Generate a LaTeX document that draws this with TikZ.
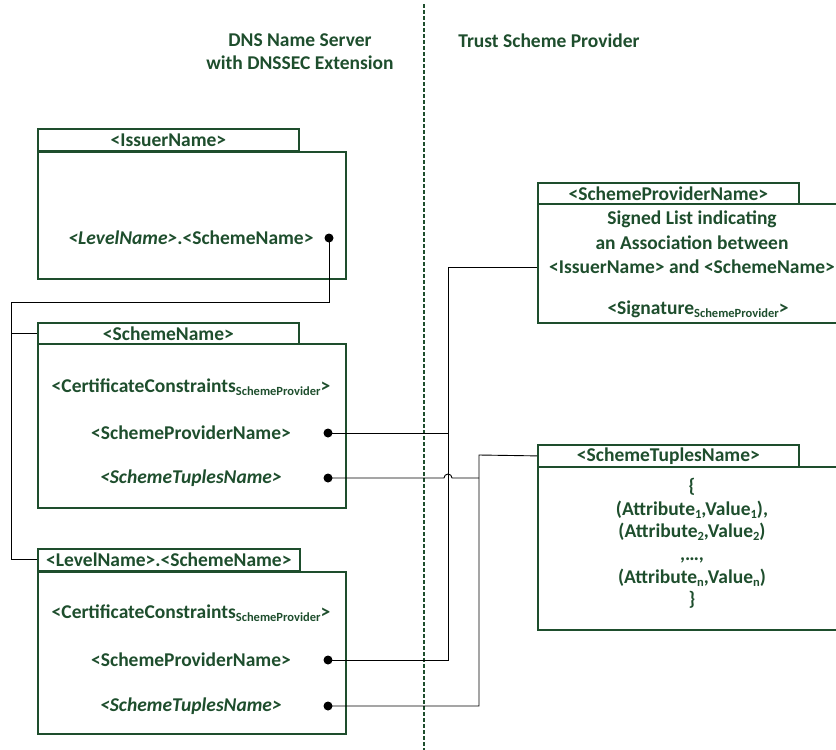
\documentclass[tikz,border=0pt]{standalone}
\usepackage{fontspec}
\setmainfont{Carlito}
\usetikzlibrary{calc}
\definecolor{dkgreen}{RGB}{30,78,45}
\newcommand{\sbs}[1]{\raisebox{-3pt}{\fontsize{12.5}{13}\selectfont #1}}

\begin{document}
\begin{tikzpicture}[x=1pt,y=-1pt,
  every node/.style={font=\fontsize{19.5}{22}\selectfont\bfseries, text=dkgreen, inner sep=0pt},
  tabbox/.style={draw=dkgreen, line width=1.8pt, fill=white, minimum width=261pt, minimum height=22pt, anchor=north west},
  mainbox/.style={draw=dkgreen, line width=1.8pt, anchor=north west},
  dot/.style={circle, fill=black, minimum size=9pt},
  wire/.style={draw=black, line width=0.9pt}]
\useasboundingbox (0,0) rectangle (836,750);
\clip (0,0) rectangle (836,750);

% headings and border between the two parties
\node[align=center, font=\fontsize{19.5}{23}\selectfont\bfseries] (dnshead) at (300,52) {DNS Name Server\\with DNSSEC Extension};
\node (tsphead) at (549,41) {Trust Scheme Provider};
\draw[dkgreen, line width=2.4pt, dash pattern=on 3.5pt off 2.5pt] (424,4) -- (424,750);

% issuer record
\node[mainbox, minimum width=308pt, minimum height=127pt] (issmain) at (37,151) {};
\node[tabbox] (isstab) at (37,128) {<IssuerName>};
\node (isslevel) at (191,238) {\textit{<LevelName>}.<SchemeName>};
\node[dot] (issdot) at (329,238) {};

% scheme record
\node[mainbox, minimum width=308pt, minimum height=164pt] (schmain) at (37,343) {};
\node[tabbox, minimum height=21pt] (schtab) at (37,322) {<SchemeName>};
\node (schcc) at (191,387) {<CertificateConstraints\sbs{SchemeProvider}>};
\node (schsp) at (191,433) {<SchemeProviderName>};
\node (schst) at (191,478) {\textit{<SchemeTuplesName>}};
\node[dot] (sp1dot) at (328,433) {};
\node[dot] (st1dot) at (328,478) {};

% level.scheme record
\node[mainbox, minimum width=308pt, minimum height=162pt] (lvmain) at (37,571) {};
\node[tabbox, minimum width=262pt] (lvtab) at (37,548) {<LevelName>.<SchemeName>};
\node (lvcc) at (191,613) {<CertificateConstraints\sbs{SchemeProvider}>};
\node (lvsp) at (191,660) {<SchemeProviderName>};
\node (lvst) at (191,706) {\textit{<SchemeTuplesName>}};
\node[dot] (sp2dot) at (328,660) {};
\node[dot] (st2dot) at (328,706) {};

% signed list of the scheme provider
\node[mainbox, minimum width=320pt, minimum height=119pt] (spmain) at (537,203) {};
\node[tabbox, minimum height=21pt] (sptab) at (537,182) {<SchemeProviderName>};
\node[align=center, font=\fontsize{19.5}{24.5}\selectfont\bfseries] (splist) at (692,242.5) {Signed List indicating\\an Association between\\<IssuerName> and <SchemeName>};
\node (spsig) at (698,309) {<Signature\sbs{SchemeProvider}>};

% scheme tuples
\node[mainbox, minimum width=320pt, minimum height=163pt] (tpmain) at (537,466) {};
\node[tabbox] (tptab) at (537,444) {<SchemeTuplesName>};
\node[align=center, font=\fontsize{19.5}{22.6}\selectfont\bfseries] (tplist) at (692,543.5) {\{\\(Attribute\sbs{1},Value\sbs{1}),\\(Attribute\sbs{2},Value\sbs{2})\\,\dots,\\(Attribute\sbs{n},Value\sbs{n})\\\}};

% connectors
\coordinate (bus) at (11,302);
\coordinate (spbus) at (448,267);
\coordinate (tpbus) at (479,455);
\draw[wire] (issdot.center) -- (issdot |- bus) -- (bus) |- (lvtab.west);
\draw[wire] (bus |- schtab.west) -- (schtab.west);
\draw[wire] (sp1dot.center) -- (sp1dot -| spbus);
\draw[wire] (sp2dot.center) -| (spbus) -- (spbus -| spmain.west);
\draw[wire] (st1dot.center) -- ($(st1dot -| spbus)+(-4,0)$) arc[start angle=180, end angle=0, radius=4pt] -- (st1dot -| tpbus);
\draw[wire] (st2dot.center) -| (tpbus) -- (tptab.west);
\end{tikzpicture}
\end{document}
